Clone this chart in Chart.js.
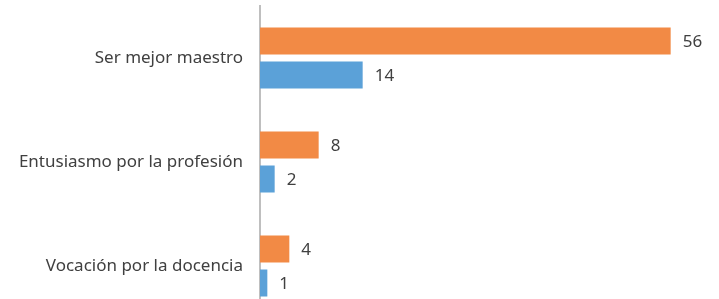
<!DOCTYPE html>
<html lang="es">
<head>
<meta charset="utf-8" />
<title>Motivos</title>
<script src="https://cdn.jsdelivr.net/npm/chart.js@4/dist/chart.umd.min.js"></script>
<style>
  html, body { margin: 0; padding: 0; background: #fff; overflow: hidden; }
  #chart { display: block; }
</style>
</head>
<body>
<canvas id="chart" width="719" height="318"></canvas>
<script>
const categories = ['Ser mejor maestro', 'Entusiasmo por la profesión', 'Vocación por la docencia'];
const orangeValues = [56, 8, 4];
const blueValues = [14, 2, 1];
const axisMax = 60;

const textColor = '#404040';
const fontFamily = '"Noto Sans", "Open Sans", sans-serif';

// draws the number at the end of each bar
const valueLabels = {
  id: 'valueLabels',
  afterDatasetsDraw(chart) {
    const { ctx } = chart;
    ctx.save();
    ctx.font = `17px ${fontFamily}`;
    ctx.fillStyle = textColor;
    ctx.textAlign = 'left';
    ctx.textBaseline = 'middle';
    chart.data.datasets.forEach((dataset, i) => {
      chart.getDatasetMeta(i).data.forEach((bar, j) => {
        ctx.fillText(String(dataset.data[j]), bar.x + 12, bar.y + 1);
      });
    });
    ctx.restore();
  },
};

new Chart(document.getElementById('chart'), {
  type: 'bar',
  data: {
    labels: categories,
    datasets: [
      { label: 'A', data: orangeValues, backgroundColor: '#F28A45' },
      { label: 'B', data: blueValues, backgroundColor: '#5BA1D8' },
    ],
  },
  options: {
    indexAxis: 'y',
    responsive: false,
    animation: false,
    categoryPercentage: 0.654,
    barPercentage: 0.794,
    layout: { padding: { top: 6, right: 19, bottom: 0, left: 0 } },
    plugins: {
      legend: { display: false },
      tooltip: { enabled: false },
    },
    scales: {
      x: { display: false, min: 0, max: axisMax },
      y: {
        grid: { display: false },
        border: { display: true, color: '#BFBFBF', width: 2 },
        ticks: {
          color: textColor,
          padding: 9,
          font: { family: fontFamily, size: 17 },
        },
        afterFit(scale) {
          scale.width = 260;
          scale.paddingTop = 0;
          scale.paddingBottom = 0;
        },
      },
    },
  },
  plugins: [valueLabels],
});
</script>
</body>
</html>
